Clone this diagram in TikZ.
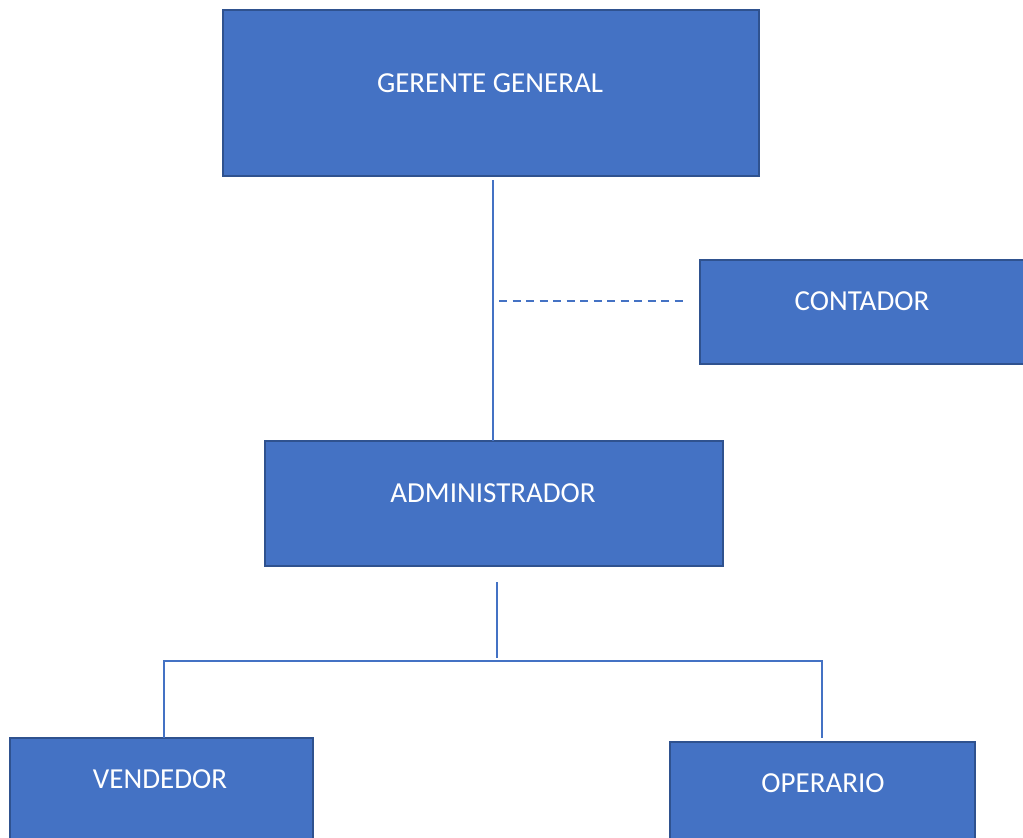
\documentclass[tikz,border=0pt]{standalone}
\usepackage{fontspec}
\setmainfont{Carlito}
\definecolor{boxfill}{HTML}{4472C4}
\definecolor{boxline}{HTML}{2F528F}
\begin{document}
\begin{tikzpicture}[x=1pt,y=-1pt,
  orgbox/.style={draw=boxline, line width=1.3pt, fill=boxfill, inner sep=0pt},
  orgtext/.style={text=white, font=\fontsize{29}{32}\selectfont, inner sep=0pt, anchor=center},
  link/.style={draw=boxfill, line width=1.6pt},
  dottedlink/.style={draw=boxfill, line width=1.6pt, dash pattern=on 8pt off 5.5pt}]
\useasboundingbox (0,0) rectangle (1023,838);
% boxes
\path[orgbox] (223,10) rectangle (759,176);
\node[minimum width=536pt, minimum height=166pt, inner sep=0pt] (gg) at (491,93) {};
\path[orgbox] (700,260) rectangle (1030,364);
\node[minimum width=330pt, minimum height=104pt, inner sep=0pt] (ct) at (865,312) {};
\path[orgbox] (265,441) rectangle (723,566);
\node[minimum width=458pt, minimum height=125pt, inner sep=0pt] (adm) at (494,503.5) {};
\path[orgbox] (10,738) rectangle (313,850);
\node[minimum width=303pt, minimum height=112pt, inner sep=0pt] (ven) at (161.5,794) {};
\path[orgbox] (670,742) rectangle (975,850);
\node[minimum width=305pt, minimum height=108pt, inner sep=0pt] (op) at (822.5,796) {};
% texts
\node[orgtext] (ggt) at (490,83) {GERENTE GENERAL};
\node[orgtext] (ctt) at (862,301) {CONTADOR};
\node[orgtext] (admt) at (493,493) {ADMINISTRADOR};
\node[orgtext] (vent) at (160,779) {VENDEDOR};
\node[orgtext] (opt) at (823,783) {OPERARIO};
% connector coordinates
\coordinate (a1) at (493,180);
\coordinate (a2) at (493,441);
\coordinate (d1) at (499,301);
\coordinate (d2) at (683,301);
\coordinate (b1) at (497,582);
\coordinate (b2) at (497,658);
\coordinate (hl) at (164,661);
\coordinate (hr) at (822,661);
\coordinate (vl) at (164,738);
\coordinate (vr) at (822,738);
% connectors
\draw[link] (a1) -- (a2);
\draw[dottedlink] (d1) -- (d2);
\draw[link] (b1) -- (b2);
\draw[link] (vl) -- (hl) -- (hr) -- (vr);
\end{tikzpicture}
\end{document}
